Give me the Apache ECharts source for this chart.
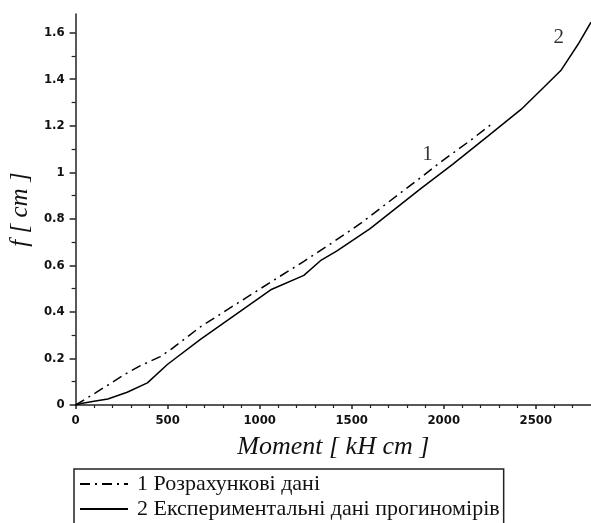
<!DOCTYPE html>
<html>
<head>
<meta charset="utf-8">
<script src="https://cdn.jsdelivr.net/npm/echarts@6/dist/echarts.min.js"></script>
<style>
html,body{margin:0;padding:0;background:#fff;}
#chart{width:591px;height:523px;}
</style>
</head>
<body>
<div id="chart"></div>
<script>
// Series 1: calculated data (dash-dot)
const calcMoment = [0, 110, 270, 350, 460, 520, 680, 1080, 1240, 1390, 1550, 1680, 1880, 1985, 2150, 2255];
const calcDeflection = [0, 0.053, 0.133, 0.168, 0.208, 0.24, 0.337, 0.538, 0.617, 0.695, 0.781, 0.86, 0.98, 1.045, 1.14, 1.204];
// Series 2: experimental data (solid)
const expMoment = [0, 30, 100, 175, 280, 390, 500, 680, 1060, 1240, 1330, 1420, 1600, 1875, 2050, 2240, 2420, 2545, 2636, 2730, 2800];
const expDeflection = [0, 0.006, 0.016, 0.026, 0.055, 0.095, 0.175, 0.283, 0.495, 0.557, 0.62, 0.662, 0.758, 0.93, 1.035, 1.155, 1.27, 1.366, 1.437, 1.55, 1.645];

const seriesNames = ['1 Розрахункові дані', '2 Експериментальні дані прогиномірів'];

// Axis ticks
const xMajorTicks = [0, 500, 1000, 1500, 2000, 2500];
const xMinorTicks = [100,200,300,400,600,700,800,900,1100,1200,1300,1400,1600,1700,1800,1900,2100,2200,2300,2400,2600,2700];
const yMajorTicks = [0, 0.2, 0.4, 0.6, 0.8, 1, 1.2, 1.4, 1.6];
const yMinorTicks = [0.1, 0.3, 0.5, 0.7, 0.9, 1.1, 1.3, 1.5];

// Curve number annotations
const annoText = ['1', '2'];
const annoX = [1912, 2625];
const annoY = [1.075, 1.578];

const chart = echarts.init(document.getElementById('chart'), null, {renderer: 'canvas'});
const tickFont = {fontFamily: 'DejaVu Sans Condensed', fontSize: 13, fontWeight: 'bold', color: '#111'};
const axisLineStyle = {color: '#222', width: 1.5};

function toPairs(xs, ys){ return xs.map((x, i) => [x, ys[i]]); }

const option = {
  animation: false,
  backgroundColor: '#fff',
  grid: {left: 75, right: 0, top: 14, bottom: 118, containLabel: false},
  xAxis: [{
    type: 'value', min: 0, max: 2800,
    name: 'Moment [ kH cm ]', nameLocation: 'middle', nameGap: 29,
    nameTextStyle: {fontFamily: 'Liberation Serif', fontStyle: 'italic', fontSize: 26, color: '#111'},
    axisLine: {show: true, lineStyle: axisLineStyle},
    axisTick: {show: true, inside: false, length: 4, lineStyle: axisLineStyle, customValues: xMajorTicks},
    axisLabel: Object.assign({show: true, margin: 9, customValues: xMajorTicks, formatter: v => String(Math.round(v))}, tickFont),
    splitLine: {show: false}
  }, {
    type: 'value', min: 0, max: 2800, position: 'bottom', gridIndex: 0,
    axisLine: {show: false},
    axisTick: {show: true, inside: false, length: 3, lineStyle: {color: '#222', width: 1.2}, customValues: xMinorTicks},
    axisLabel: {show: false},
    splitLine: {show: false}
  }],
  yAxis: [{
    type: 'value', min: 0, max: 1.68,
    name: 'f [ cm ]', nameLocation: 'middle', nameGap: 36,
    nameTextStyle: {fontFamily: 'Liberation Serif', fontStyle: 'italic', fontSize: 25, color: '#111'},
    axisLine: {show: true, lineStyle: axisLineStyle},
    axisTick: {show: true, inside: false, length: 6, lineStyle: axisLineStyle, customValues: yMajorTicks},
    axisLabel: Object.assign({show: true, margin: 11, customValues: yMajorTicks, formatter: v => String(+v.toFixed(1))}, tickFont),
    splitLine: {show: false}
  }, {
    type: 'value', min: 0, max: 1.68, position: 'left',
    axisLine: {show: false},
    axisTick: {show: true, inside: false, length: 4, lineStyle: {color: '#222', width: 1.2}, customValues: yMinorTicks},
    axisLabel: {show: false},
    splitLine: {show: false}
  }],
  legend: {
    data: seriesNames,
    orient: 'vertical',
    left: 74, top: 469,
    height: 120,
    padding: [4, 4, 14, 5],
    itemGap: 3,
    itemWidth: 48, itemHeight: 20,
    borderColor: '#222', borderWidth: 1.5, borderRadius: 0,
    backgroundColor: '#fff',
    itemStyle: {opacity: 0},
    textStyle: {fontFamily: 'Liberation Serif', fontSize: 22, color: '#111', padding: [0, 0, 0, 4]}
  },
  series: [{
    name: seriesNames[0], type: 'line', xAxisIndex: 0, yAxisIndex: 0,
    data: toPairs(calcMoment, calcDeflection),
    symbol: 'none', smooth: false,
    lineStyle: {color: '#000', width: 1.5, type: [10, 5, 2, 5]},
    itemStyle: {color: '#000'}
  }, {
    name: seriesNames[1], type: 'line', xAxisIndex: 0, yAxisIndex: 0,
    data: toPairs(expMoment, expDeflection),
    symbol: 'none', smooth: false,
    lineStyle: {color: '#000', width: 1.5, type: 'solid'},
    itemStyle: {color: '#000'}
  }, {
    name: 'annotations', type: 'scatter', xAxisIndex: 0, yAxisIndex: 0,
    data: annoX.map((x, i) => ({value: [x, annoY[i]], name: annoText[i]})),
    symbolSize: 0, silent: true,
    itemStyle: {color: '#000'},
    label: {show: true, position: 'inside', formatter: p => p.name,
      fontFamily: 'Liberation Serif', fontSize: 21, color: '#000'}
  }]
};
chart.setOption(option);
</script>
</body>
</html>
